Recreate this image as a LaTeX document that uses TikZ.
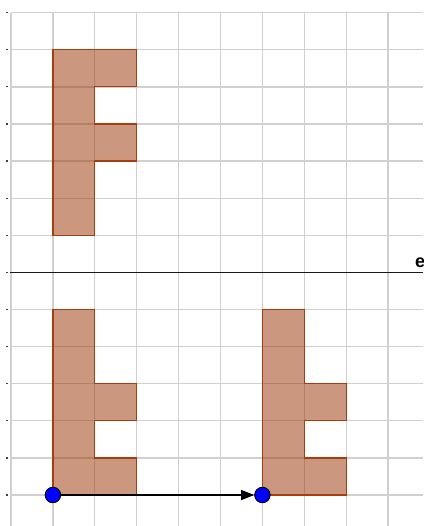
\documentclass[tikz,border=0pt]{standalone}
\usepackage{fontspec}
\setmainfont{Liberation Sans}
\usetikzlibrary{arrows.meta}
\definecolor{gridgray}{RGB}{208,208,208}
\definecolor{shapeedge}{RGB}{168,62,14}
\definecolor{shapefill}{RGB}{153,51,0}
\begin{document}
\begin{tikzpicture}[x=1pt,y=-1pt,
  gridline/.style={gridgray, line width=1.3pt},
  tickmark/.style={black!75, line width=1.2pt},
  figshape/.style={draw=shapeedge, line width=1.2pt, fill=shapefill, fill opacity=0.5, line join=miter},
  axisline/.style={black!90, line width=1.7pt},
  dot/.style={circle, draw=black, line width=0.9pt, fill=blue, minimum size=15.5pt, inner sep=0pt},
  vec/.style={black, line width=1.2pt, -{Triangle[length=13pt,width=10pt]}},
  lbl/.style={anchor=base west, font=\bfseries\fontsize{18}{18}\selectfont, inner sep=0pt}]
\useasboundingbox (0,0) rectangle (423,526);
\fill[white] (0,0) rectangle (423,526);
\begin{scope}[shift={(11pt,-12.7pt)}, x=41.9pt, y=-37.1pt]
  % grid
  \foreach \i in {0,...,9} \draw[gridline] (\i,0) -- (\i,13.84);
  \foreach \j in {0,...,13} \draw[gridline] (0,\j) -- (9.84,\j);
  \foreach \j in {0,...,13} \draw[tickmark] (-0.115,\j) -- (-0.07,\j);
  % original figure F
  \draw[figshape] (1,1) -- (3,1) -- (3,2) -- (2,2) -- (2,3) -- (3,3) -- (3,4) -- (2,4) -- (2,6) -- (1,6) -- cycle;
  % reflected figure
  \draw[figshape] (1,8) -- (2,8) -- (2,10) -- (3,10) -- (3,11) -- (2,11) -- (2,12) -- (3,12) -- (3,13) -- (1,13) -- cycle;
  % translated figure
  \draw[figshape] (6,8) -- (7,8) -- (7,10) -- (8,10) -- (8,11) -- (7,11) -- (7,12) -- (8,12) -- (8,13) -- (6,13) -- cycle;
  % axis e
  \coordinate (axL) at (-0.03,7);
  \coordinate (axR) at (9.84,7);
  \draw[axisline] (axL) -- (axR);
  \node[lbl] (elabel) at (9.64,6.88) {e};
  % vector
  \node[dot] (A) at (1,13) {};
  \node[dot] (B) at (6,13) {};
  \draw[vec] (A) -- (B);
\end{scope}
\end{tikzpicture}
\end{document}
